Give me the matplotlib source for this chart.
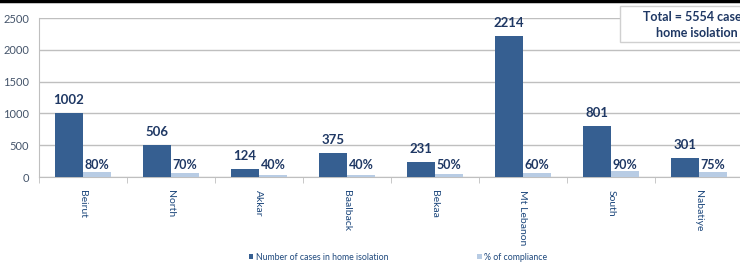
import matplotlib
matplotlib.use('Agg')
import matplotlib.pyplot as plt
import numpy as np
from matplotlib.lines import Line2D
from matplotlib.patches import Rectangle

plt.rcParams['font.family'] = ['Lato', 'DejaVu Sans']

regions = ['Beirut', 'North', 'Akkar', 'Baalback', 'Bekaa', 'Mt Lebanon', 'South', 'Nabatiye']
cases = [1002, 506, 124, 375, 231, 2214, 801, 301]
compliance = [80, 70, 40, 40, 50, 60, 90, 75]

dark = '#365F91'
light = '#B8CCE4'
navy = '#1F3864'

fig = plt.figure(figsize=(7.4, 2.62), dpi=100)
ax = fig.add_axes([0.0527, 0.324, 0.951, 0.607])

x = np.arange(len(regions))
w = 0.32
b1 = ax.bar(x - w / 2, cases, w, color=dark, label='Number of cases in home isolation', zorder=3)
b2 = ax.bar(x + w / 2, compliance, w, color=light, label='% of compliance', zorder=3)

for i in range(len(regions)):
    ax.text(x[i] - w / 2, cases[i] + 110, str(cases[i]), ha='center', va='bottom',
            fontsize=9.5, fontweight='bold', color=navy)
    ax.text(x[i] + w / 2, 100, '%d%%' % compliance[i], ha='center', va='bottom',
            fontsize=9, fontweight='bold', color=navy)

ax.set_xlim(-0.5, len(regions) - 0.5)
ax.set_ylim(0, 2500)
ax.set_yticks(np.arange(0, 2501, 500))
ax.yaxis.grid(True, color='#BFBFBF', linewidth=1, zorder=0)
ax.tick_params(axis='y', length=0, labelsize=8, labelcolor='#44546A', pad=7)
ax.set_xticks(x)
ax.set_xticklabels(regions, rotation=270, fontsize=7.5, color='#1F497D')
ax.tick_params(axis='x', length=0, pad=9)
ax.set_xticks(np.arange(-0.5, len(regions) + 0.5, 1), minor=True)
ax.tick_params(axis='x', which='minor', length=4, color='#BFBFBF')
for s in ['top', 'right']:
    ax.spines[s].set_visible(False)
ax.spines['left'].set_color('#BFBFBF')
ax.spines['bottom'].set_color('#BFBFBF')

fig.legend(handles=[b1, b2], loc='lower center', bbox_to_anchor=(0.538, -0.03), ncol=2,
           frameon=False, fontsize=6.3, handlelength=0.5, handleheight=0.5,
           handletextpad=0.3, columnspacing=10.2, labelcolor='#1F497D')

# top rule
fig.add_artist(Line2D([0, 1], [0.995, 0.995], color='black', linewidth=2.5, transform=fig.transFigure))

# total box, cut by the right edge as in the source
fig.add_artist(Rectangle((620 / 740, 1 - 42 / 262), 0.2, 36 / 262, transform=fig.transFigure,
                         facecolor='white', edgecolor='#D0D0D0', linewidth=1, zorder=5))
fig.text(643 / 740, 1 - 17 / 262, 'Total = 5554 cases in', ha='left', va='center',
         fontsize=9, fontweight='bold', color=navy, zorder=6)
fig.text(656 / 740, 1 - 33 / 262, 'home isolation', ha='left', va='center',
         fontsize=9, fontweight='bold', color=navy, zorder=6)

fig.savefig('out.png', dpi=100)
